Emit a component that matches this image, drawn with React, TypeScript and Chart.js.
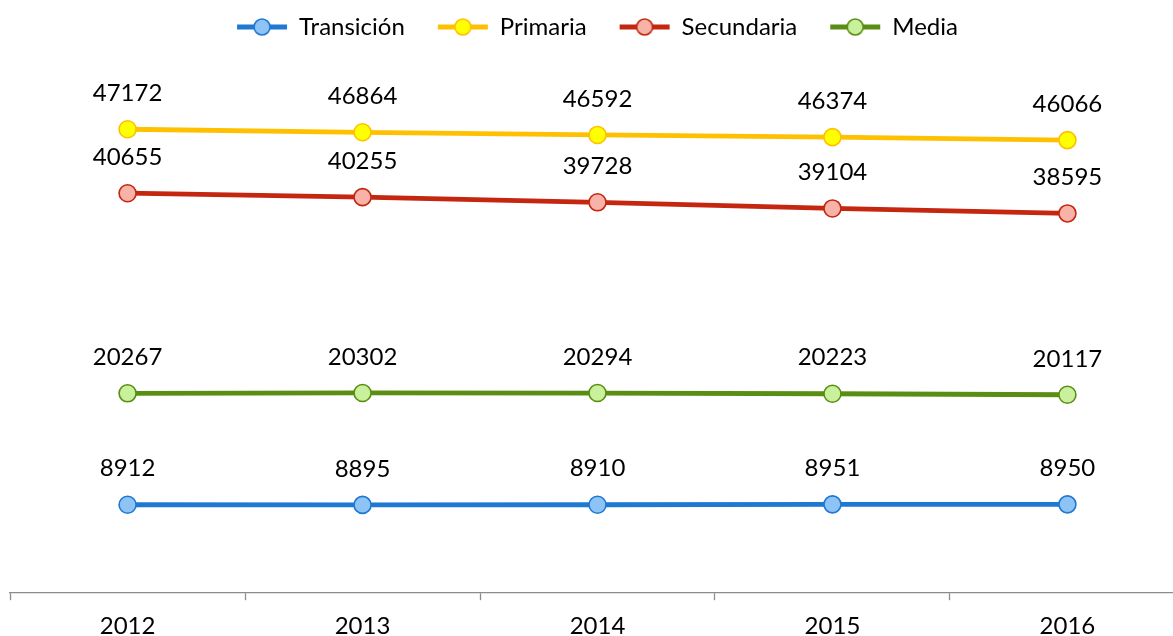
import React, { useEffect, useRef } from "react";
import { Chart, registerables } from "chart.js";

Chart.register(...registerables);

const years = ["2012", "2013", "2014", "2015", "2016"];
const transicion = [8912, 8895, 8910, 8951, 8950];
const primaria = [47172, 46864, 46592, 46374, 46066];
const secundaria = [40655, 40255, 39728, 39104, 38595];
const media = [20267, 20302, 20294, 20223, 20117];

const FONT = "Lato, 'Open Sans', sans-serif";
const FSIZE = 24;

function legendIcon(line: string, fill: string) {
  const c = document.createElement("canvas");
  c.width = 52;
  c.height = 20;
  const ctx = c.getContext("2d")!;
  ctx.strokeStyle = line;
  ctx.lineWidth = 4.8;
  ctx.beginPath();
  ctx.moveTo(1, 10);
  ctx.lineTo(51, 10);
  ctx.stroke();
  ctx.beginPath();
  ctx.arc(26, 10, 8, 0, Math.PI * 2);
  ctx.fillStyle = fill;
  ctx.fill();
  ctx.lineWidth = 1.6;
  ctx.stroke();
  return c;
}

const valueLabels = {
  id: "valueLabels",
  afterDatasetsDraw(chart: any) {
    const ctx = chart.ctx;
    ctx.save();
    ctx.font = `${FSIZE}px ${FONT}`;
    ctx.fillStyle = "#000";
    ctx.textAlign = "center";
    ctx.textBaseline = "middle";
    chart.data.datasets.forEach((ds: any, i: number) => {
      const meta = chart.getDatasetMeta(i);
      meta.data.forEach((pt: any, j: number) => {
        ctx.fillText(String(ds.data[j]), pt.x, pt.y - 36);
      });
    });
    ctx.restore();
  },
};

const legendSpace = {
  id: "legendSpace",
  beforeUpdate(chart: any) {
    const lg = chart.legend;
    if (lg && !lg.__patched) {
      const orig = lg.fit;
      lg.fit = function () {
        orig.call(this);
        this.height = 119.5;
      };
      lg.__patched = true;
    }
  },
};

export default function App() {
  const ref = useRef<HTMLCanvasElement>(null);
  useEffect(() => {
    const series = [
      { label: "Transición", data: transicion, line: "#1f78d1", fill: "#8dc4f5" },
      { label: "Primaria", data: primaria, line: "#ffc000", fill: "#ffff00" },
      { label: "Secundaria", data: secundaria, line: "#c4260f", fill: "#f7b3a8" },
      { label: "Media", data: media, line: "#5a8d13", fill: "#c9f09b" },
    ];
    const chart = new Chart(ref.current!, {
      type: "line",
      data: {
        labels: years,
        datasets: series.map((s) => ({
          label: s.label,
          data: s.data,
          borderColor: s.line,
          backgroundColor: s.fill,
          borderWidth: 4.8,
          pointStyle: "circle",
          pointRadius: 8.5,
          pointBorderWidth: 1.6,
          pointBackgroundColor: s.fill,
          pointBorderColor: s.line,
          tension: 0,
        })),
      },
      options: {
        animation: false,
        responsive: true,
        maintainAspectRatio: false,
        layout: { padding: { top: -18, left: 10, right: 10, bottom: 0 } },
        plugins: {
          tooltip: { enabled: false },
          legend: {
            position: "top",
            labels: {
              usePointStyle: true,
              pointStyleWidth: 50,
              padding: 33,
              color: "#000",
              font: { family: FONT, size: FSIZE },
              generateLabels(chart: any) {
                return chart.data.datasets.map((ds: any, i: number) => ({
                  text: ds.label,
                  pointStyle: legendIcon(ds.borderColor, ds.backgroundColor),
                  fillStyle: ds.backgroundColor,
                  strokeStyle: ds.borderColor,
                  lineWidth: 0,
                  hidden: false,
                  datasetIndex: i,
                  fontColor: "#000",
                }));
              },
            },
          },
        },
        scales: {
          x: {
            offset: true,
            grid: {
              offset: true,
              drawOnChartArea: false,
              drawTicks: true,
              tickLength: 8,
              tickColor: "#8c8c8c",
              tickWidth: 1.3,
            },
            border: { display: true, color: "#8c8c8c", width: 1.3 },
            ticks: {
              color: "#000",
              padding: 12,
              font: { family: FONT, size: FSIZE },
            },
          },
          y: {
            display: false,
            min: 0,
            max: 50000,
          },
        },
      },
      plugins: [valueLabels, legendSpace],
    });
    return () => chart.destroy();
  }, []);
  return (
    <div
      style={{
        position: "fixed",
        left: 0,
        top: 0,
        width: 1173,
        height: 636,
        overflow: "hidden",
        background: "#fff",
      }}
    >
      <div style={{ width: 1195, height: 653, position: "relative" }}>
        <canvas ref={ref} />
      </div>
    </div>
  );
}
